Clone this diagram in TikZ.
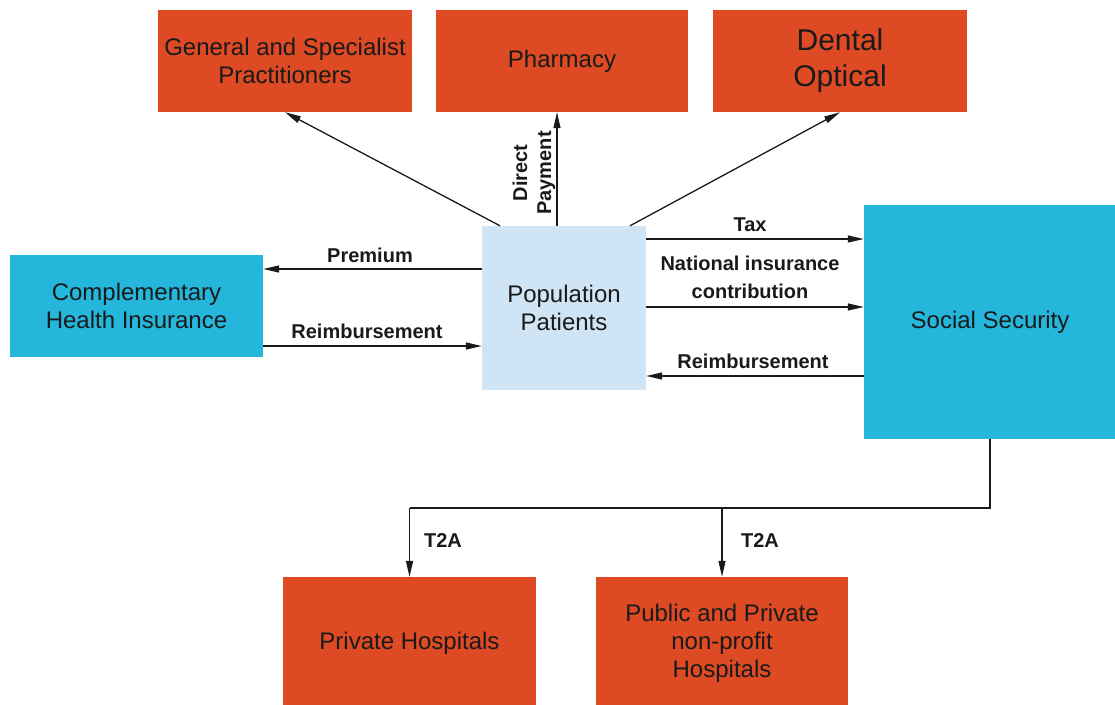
\documentclass[tikz,border=0pt]{standalone}
\usepackage{fontspec}
\setmainfont{Liberation Sans}
\usetikzlibrary{arrows.meta}
\definecolor{boxred}{HTML}{DD4A24}
\definecolor{boxblue}{HTML}{24B6DB}
\definecolor{lightblue}{HTML}{CFE5F5}
\definecolor{ink}{HTML}{1A1A1A}
\tikzset{
  box/.style={rectangle, inner sep=0pt, text=ink, align=center, font=\fontsize{24}{28}\selectfont},
  redbox/.style={box, fill=boxred},
  bluebox/.style={box, fill=boxblue},
  lightbox/.style={box, fill=lightblue},
  conn/.style={draw=ink, line width=1.3pt},
  arr/.style={conn, -{Triangle[length=16pt,width=7pt]}},
  lbl/.style={text=ink, inner sep=0pt, align=center, font=\bfseries\fontsize{20}{28}\selectfont},
}
\begin{document}
\begin{tikzpicture}[x=1pt,y=-1pt]
\useasboundingbox (0,0) rectangle (1115,704);
\clip (0,0) rectangle (1115,704);
\fill[white] (0,0) rectangle (1115,704);

% boxes
\node[redbox, minimum width=254pt, minimum height=102pt] (gsp) at (285,61) {\raisebox{-1pt}{General and Specialist}\\\raisebox{-1pt}{Practitioners}};
\node[redbox, minimum width=252pt, minimum height=102pt] (pha) at (562,61) {\raisebox{-3pt}{Pharmacy}};
\node[redbox, minimum width=254pt, minimum height=102pt, font=\fontsize{30}{36}\selectfont] (den) at (840,61) {\raisebox{-4pt}{Dental}\\\raisebox{-4pt}{Optical}};
\node[bluebox, minimum width=253pt, minimum height=102pt] (chi) at (136.5,306) {Complementary\\Health Insurance};
\node[lightbox, minimum width=164pt, minimum height=164pt] (pop) at (564,308) {Population\\Patients};
\node[bluebox, minimum width=252pt, minimum height=234pt] (ss) at (990,322) {Social Security};
\node[redbox, minimum width=253pt, minimum height=132pt] (ph) at (409.5,643) {\raisebox{-2pt}{Private Hospitals}};
\node[redbox, minimum width=252pt, minimum height=132pt] (pub) at (722,643) {\raisebox{-2pt}{Public and Private}\\\raisebox{-2pt}{non-profit}\\\raisebox{-2pt}{Hospitals}};

% helper coordinates
\coordinate (xG) at (500,0);
\coordinate (xDP) at (557,0);
\coordinate (xD) at (630,0);
\coordinate (yTax) at (0,239);
\coordinate (yNic) at (0,307);
\coordinate (ySsR) at (0,376);
\coordinate (yPrem) at (0,269);
\coordinate (yChiR) at (0,346);
\coordinate (yBus) at (0,508);

% connectors
\draw[arr] (pop.north -| xG) -- (gsp.south);
\draw[arr] (pop.north -| xDP) -- (pha.south -| xDP);
\draw[arr] (pop.north -| xD) -- (den.south);
\draw[arr] (pop.east |- yTax) -- (ss.west |- yTax);
\draw[arr] (pop.east |- yNic) -- (ss.west |- yNic);
\draw[arr] (ss.west |- ySsR) -- (pop.east |- ySsR);
\draw[arr] (pop.west |- yPrem) -- (chi.east |- yPrem);
\draw[arr] (chi.east |- yChiR) -- (pop.west |- yChiR);
\draw[conn] (ss.south) -- (ss.south |- yBus) -- (ph.north |- yBus);
\draw[arr] (ph.north |- yBus) -- (ph.north);
\draw[arr] (pub.north |- yBus) -- (pub.north);

% labels
\node[lbl, anchor=base] (lTax) at (750,231) {Tax};
\node[lbl] (lNic) at (750,277) {National insurance\\contribution};
\node[lbl, anchor=base] (lSsR) at (753,368) {Reimbursement};
\node[lbl, anchor=base] (lPrem) at (370,262) {Premium};
\node[lbl, anchor=base] (lChiR) at (367,338) {Reimbursement};
\node[lbl, rotate=90, font=\bfseries\fontsize{20}{24}\selectfont] (lDP) at (534,173) {Direct\\Payment};
\node[lbl, anchor=base] (lT1) at (443,547) {T2A};
\node[lbl, anchor=base] (lT2) at (760,547) {T2A};
\end{tikzpicture}
\end{document}
